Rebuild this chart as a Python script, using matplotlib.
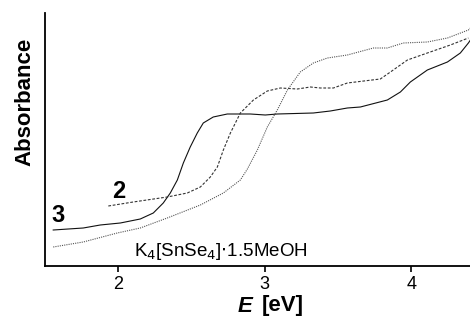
import matplotlib
matplotlib.use('Agg')
import matplotlib.pyplot as plt

plt.rcParams['font.family'] = ['Liberation Sans', 'DejaVu Sans']

# Energy (eV) and absorbance (arb. units)
e_3 = [1.556, 1.761, 1.877, 2.014, 2.150, 2.239, 2.307, 2.355, 2.403, 2.444, 2.491,
       2.539, 2.580, 2.648, 2.744, 2.833, 2.901, 3.003, 3.085, 3.331, 3.447, 3.563,
       3.652, 3.836, 3.925, 3.993, 4.109, 4.246, 4.334, 4.389, 4.403]
a_3 = [0.36, 0.38, 0.41, 0.43, 0.47, 0.53, 0.63, 0.73, 0.86, 1.03, 1.19,
       1.33, 1.43, 1.49, 1.52, 1.52, 1.52, 1.51, 1.52, 1.53, 1.55, 1.58,
       1.59, 1.66, 1.74, 1.84, 1.96, 2.04, 2.13, 2.23, 2.26]

e_2 = [1.932, 2.102, 2.334, 2.471, 2.560, 2.628, 2.676, 2.717, 2.765, 2.833, 2.922,
       3.017, 3.106, 3.222, 3.311, 3.379, 3.468, 3.563, 3.788, 3.857, 3.973, 4.109,
       4.266, 4.389]
a_2 = [0.60, 0.64, 0.69, 0.73, 0.79, 0.89, 0.99, 1.16, 1.33, 1.53, 1.66,
       1.75, 1.78, 1.77, 1.79, 1.78, 1.78, 1.83, 1.87, 1.94, 2.06, 2.13,
       2.21, 2.28]

e_k = [1.556, 1.761, 1.993, 2.150, 2.334, 2.560, 2.717, 2.833, 2.881, 2.949, 3.017,
       3.085, 3.154, 3.242, 3.331, 3.427, 3.563, 3.741, 3.836, 3.945, 4.109, 4.246,
       4.389, 4.403]
a_k = [0.19, 0.24, 0.33, 0.38, 0.48, 0.61, 0.73, 0.86, 0.97, 1.16, 1.39,
       1.56, 1.76, 1.94, 2.03, 2.08, 2.11, 2.18, 2.18, 2.23, 2.24, 2.28,
       2.36, 2.38]

fig = plt.figure(figsize=(4.7, 3.22), dpi=100)
ax = fig.add_axes([45 / 470, 56 / 322, 425 / 470, 253 / 322])

ax.plot(e_3, a_3, color='#111111', linewidth=0.8, linestyle='-')
ax.plot(e_2, a_2, color='#333333', linewidth=0.8, linestyle=(0, (2.5, 1.5)))
ax.plot(e_k, a_k, color='#555555', linewidth=0.8, linestyle=(0, (1, 1)))

ax.set_xlim(1.5, 4.4)
ax.set_ylim(0, 2.53)
ax.set_xticks([2, 3, 4])
ax.set_yticks([])
ax.tick_params(axis='x', direction='out', length=4, width=1.2, labelsize=13, pad=3)
for side in ['top', 'right']:
    ax.spines[side].set_visible(False)
for side in ['left', 'bottom']:
    ax.spines[side].set_linewidth(1.3)

ax.text(1.59, 0.50, '3', fontsize=17, fontweight='bold', ha='center', va='center')
ax.text(2.0, 0.75, '2', fontsize=17, fontweight='bold', ha='center', va='center')
ax.text(2.11, 0.15, r'K$_4$[SnSe$_4$]$\cdot$1.5MeOH', fontsize=13.5, ha='left', va='center')

fig.text(25 / 470, 1 - 102 / 322, 'Absorbance', rotation=90, fontsize=16,
         fontweight='bold', ha='center', va='center')
fig.text(252 / 470, 1 - 306 / 322, 'E', fontsize=16, fontweight='bold',
         style='italic', ha='right', va='center')
fig.text(262 / 470, 1 - 306 / 322, '[eV]', fontsize=16, fontweight='bold',
         ha='left', va='center')

fig.savefig('out.png', dpi=100)
